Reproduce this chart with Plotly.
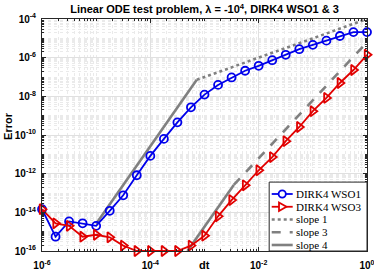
import plotly.graph_objects as go

# ---- data ----
dt = [1e-6, 1.78e-6, 3.16e-6, 5.62e-6, 1e-5, 1.78e-5, 3.16e-5, 5.62e-5,
      1e-4, 1.78e-4, 3.16e-4, 5.62e-4, 1e-3, 1.78e-3, 3.16e-3, 5.62e-3,
      1e-2, 1.78e-2, 3.16e-2, 5.62e-2, 1e-1, 0.178, 0.316, 0.562, 1.0]
err_wso1 = [1.45e-14, 5.5e-16, 3.4e-15, 2.7e-15, 2.0e-15, 1.2e-14, 7.6e-14, 8.3e-13,
            8.3e-12, 6.3e-11, 4.5e-10, 2.7e-9, 1.23e-8, 3.9e-8, 9.5e-8, 2.1e-7,
            3.8e-7, 7.4e-7, 1.41e-6, 2.75e-6, 4.6e-6, 7.6e-6, 1.32e-5, 2.1e-5, 2.1e-5]
err_wso3 = [1.45e-14, 2.7e-15, 2.0e-15, 5.5e-16, 6.9e-16, 5.1e-16, 1.9e-16, 1.0e-16,
            1.0e-16, 1.0e-16, 1.0e-16, 1.9e-16, 6.2e-16, 6.2e-15, 4.3e-14, 2.5e-13,
            1.5e-12, 7.2e-12, 4.8e-11, 2.6e-10, 1.7e-9, 8.3e-9, 4.9e-8, 2.3e-7, 1.41e-6]

slope1_dt = [7.2e-4, 1.0]
slope1_err = [7.2e-8, 1.0e-4]
slope3_dt = [3.47e-3, 1.0]
slope3_err = [2.6e-13, 6.3e-6]
slope4_dt = [1e-5, 7.2e-4, None, 4.84e-4, 3.47e-3]
slope4_err = [2.6e-15, 7.2e-8, None, 1e-16, 2.6e-13]

x_tickvals = [1e-6, 1e-4, 1e-2, 1.0]
x_ticktext = ["10<sup>-6</sup>", "10<sup>-4</sup>", "10<sup>-2</sup>", "10<sup>0</sup>"]
y_tickvals = [1e-16, 1e-14, 1e-12, 1e-10, 1e-8, 1e-6, 1e-4]
y_ticktext = ["10<sup>-16</sup>", "10<sup>-14</sup>", "10<sup>-12</sup>", "10<sup>-10</sup>",
              "10<sup>-8</sup>", "10<sup>-6</sup>", "10<sup>-4</sup>"]

legend_labels = ["DIRK4 WSO1", "DIRK4 WSO3", "slope 1", "slope 3", "slope 4"]

BLUE = "rgb(0,0,235)"
RED = "rgb(225,0,0)"
GRAY = "rgb(128,128,128)"
AX = "#262626"

fig = go.Figure()
fig.add_trace(go.Scatter(x=slope1_dt, y=slope1_err, mode="lines", name="slope 1",
                         line=dict(color=GRAY, width=2.6, dash="dot"), showlegend=False))
fig.add_trace(go.Scatter(x=slope3_dt, y=slope3_err, mode="lines", name="slope 3",
                         line=dict(color=GRAY, width=2.6, dash="dash"), showlegend=False))
fig.add_trace(go.Scatter(x=slope4_dt, y=slope4_err, mode="lines", name="slope 4",
                         line=dict(color=GRAY, width=2.6), showlegend=False,
                         connectgaps=False))
fig.add_trace(go.Scatter(x=dt, y=err_wso1, mode="lines+markers", name="DIRK4 WSO1",
                         line=dict(color=BLUE, width=1.8),
                         marker=dict(symbol="circle-open", size=8, color=BLUE,
                                     line=dict(width=1.8, color=BLUE)),
                         cliponaxis=False, showlegend=False))
fig.add_trace(go.Scatter(x=dt, y=err_wso3, mode="lines+markers", name="DIRK4 WSO3",
                         line=dict(color=RED, width=1.8),
                         marker=dict(symbol="triangle-right-open", size=9, color=RED,
                                     line=dict(width=1.8, color=RED)),
                         cliponaxis=False, showlegend=False))

axis_common = dict(
    type="log", showline=True, linecolor=AX, linewidth=1, mirror="ticks",
    ticks="inside", ticklen=4, tickcolor=AX, tickwidth=1, automargin=False,
    showgrid=True, gridcolor="rgb(224,224,224)", gridwidth=1,
    tickfont=dict(family="Liberation Sans", size=10, color="black", weight="bold"),
    minor=dict(tickmode="linear", dtick="D1", ticks="inside", ticklen=2, tickcolor=AX,
               showgrid=True, gridcolor="rgb(234,234,234)", griddash="dot", gridwidth=1),
    zeroline=False, ticklabeloverflow="allow",
)

fig.update_xaxes(range=[-6, 0], tickmode="array", tickvals=x_tickvals, ticktext=x_ticktext,
                 ticklabelstandoff=5, **axis_common)
fig.update_yaxes(range=[-16, -4], tickmode="array", tickvals=y_tickvals, ticktext=y_ticktext,
                 ticklabelstandoff=3, **axis_common)

# ---- legend (drawn as layout decorations, lower-right box) ----
shapes = []
bx0, bx1, by0, by1 = 0.699, 1.0, 0.0, 0.297
shapes.append(dict(type="rect", xref="paper", yref="paper", x0=bx0, x1=bx1, y0=by0, y1=by1,
                   line=dict(color=AX, width=1), fillcolor="white", layer="above"))
row_y = [0.2457, 0.1907, 0.1358, 0.0808, 0.0259]
lx0, lx1, lxc = 0.7068, 0.7714, 0.7391
styles = [(BLUE, 1.8, "solid"), (RED, 1.8, "solid"), (GRAY, 2.6, "dot"),
          (GRAY, 2.6, "dash"), (GRAY, 2.6, "solid")]
for yy, (c, w, d) in zip(row_y, styles):
    shapes.append(dict(type="line", xref="paper", yref="paper", x0=lx0, x1=lx1, y0=yy, y1=yy,
                       line=dict(color=c, width=w, dash=d), layer="above"))
shapes.append(dict(type="circle", xref="paper", yref="paper", xsizemode="pixel",
                   ysizemode="pixel", xanchor=lxc, yanchor=row_y[0], x0=-3.6, x1=3.6,
                   y0=-3.6, y1=3.6, line=dict(color=BLUE, width=1.8), fillcolor="white",
                   layer="above"))
shapes.append(dict(type="path", xref="paper", yref="paper", xsizemode="pixel",
                   ysizemode="pixel", xanchor=lxc, yanchor=row_y[1],
                   path="M -3.2,-4.2 L 4.2,0 L -3.2,4.2 Z",
                   line=dict(color=RED, width=1.8), fillcolor="white", layer="above"))

annotations = []
for yy, lab in zip(row_y, legend_labels):
    annotations.append(dict(text=lab, xref="paper", yref="paper", x=0.7765, y=yy,
                            xanchor="left", yanchor="middle", showarrow=False,
                            font=dict(family="Liberation Serif", size=11, color="black")))
annotations.append(dict(text="<b>Error</b>", xref="paper", yref="paper", x=-0.107, y=0.54,
                        textangle=-90, xanchor="center", yanchor="middle", showarrow=False,
                        font=dict(family="Liberation Sans", size=11, color="black")))
annotations.append(dict(text="<b>dt</b>", xref="paper", yref="paper", x=0.5015, y=-0.06,
                        xanchor="center", yanchor="middle", showarrow=False,
                        font=dict(family="Liberation Sans", size=11, color="black")))

fig.update_layout(
    width=374, height=272, autosize=False,
    margin=dict(l=42, r=7, t=19, b=21, pad=0),
    paper_bgcolor="white", plot_bgcolor="white",
    font=dict(family="Liberation Sans", color="black"),
    title=dict(text="<b>Linear ODE test problem, λ = -10<sup>4</sup>, DIRK4 WSO1 &amp; 3</b>",
               xref="paper", x=0.5, xanchor="center", y=0.965, yanchor="middle",
               font=dict(family="Liberation Sans", size=11, color="black")),
    shapes=shapes, annotations=annotations, showlegend=False,
)

fig.write_html(
    "out.html",
    config={"displayModeBar": False},
    post_script="document.documentElement.style.margin='0';"
                "document.body.style.margin='0';document.body.style.overflow='hidden';",
)
